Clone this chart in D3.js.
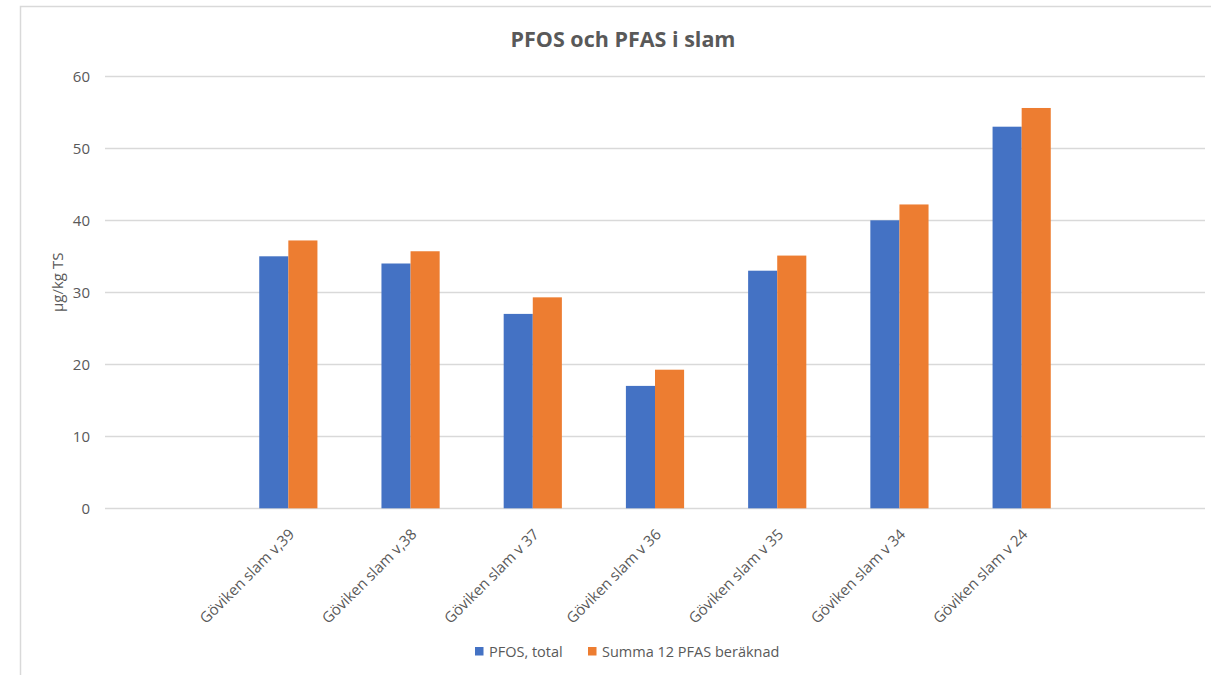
<!DOCTYPE html>
<html>
<head>
<meta charset="utf-8">
<script src="https://cdn.jsdelivr.net/npm/d3@7"></script>
<style>
  body { margin: 0; background: #fff; }
  text { font-family: "Open Sans", sans-serif; fill: #595959; }
</style>
</head>
<body>
<div id="chart"></div>
<script>
// first and last slots are empty in the original chart
const categories = ["", "Göviken slam v,39", "Göviken slam v,38", "Göviken slam v 37", "Göviken slam v 36",
  "Göviken slam v 35", "Göviken slam v 34", "Göviken slam v 24", ""];
const pfosTotal = [null, 35, 34, 27, 17, 33, 40, 53, null];
const summa12 = [null, 37.2, 35.7, 29.3, 19.25, 35.1, 42.2, 55.6, null];
const seriesNames = ["PFOS, total", "Summa 12 PFAS beräknad"];
const yTicks = [0, 10, 20, 30, 40, 50, 60];

const width = 1211, height = 675;
const colors = ["#4472C4", "#ED7D31"];
const plot = { left: 105, right: 1205, top: 76.3, bottom: 508.3 };

const svg = d3.select("#chart").append("svg")
  .attr("width", width)
  .attr("height", height);

// chart frame
svg.append("rect")
  .attr("x", 20.5).attr("y", 6.5)
  .attr("width", 1400).attr("height", 900)
  .attr("fill", "#fff")
  .attr("stroke", "#d9d9d9")
  .attr("stroke-width", 1.5);

const x = d3.scaleBand()
  .domain(d3.range(categories.length))
  .range([plot.left, plot.right]);

const barW = 29.1;
const x1 = d3.scaleBand()
  .domain([0, 1])
  .range([(x.bandwidth() - 2 * barW) / 2, (x.bandwidth() + 2 * barW) / 2]);

const y = d3.scaleLinear()
  .domain([0, 60])
  .range([plot.bottom, plot.top]);

// gridlines
svg.append("g").selectAll("line")
  .data(yTicks)
  .join("line")
  .attr("x1", plot.left).attr("x2", plot.right)
  .attr("y1", d => Math.round(y(d)) + 0.5)
  .attr("y2", d => Math.round(y(d)) + 0.5)
  .attr("stroke", "#d9d9d9")
  .attr("stroke-width", 1.3);

// y axis labels
const yAxis = svg.append("g")
  .attr("transform", `translate(${plot.left},0)`)
  .call(d3.axisLeft(y).tickValues(yTicks).tickSize(0).tickPadding(15));
yAxis.select(".domain").remove();
yAxis.selectAll("text")
  .style("font-size", "15px")
  .attr("fill", "#595959");

// bars
const rows = categories.map((c, i) => ({ i, values: [pfosTotal[i], summa12[i]] }));
svg.append("g").selectAll("g")
  .data(rows)
  .join("g")
  .attr("transform", d => `translate(${x(d.i)},0)`)
  .selectAll("rect")
  .data(d => d.values.map((v, k) => ({ v, k })).filter(e => e.v !== null))
  .join("rect")
  .attr("x", e => x1(e.k))
  .attr("width", x1.bandwidth())
  .attr("y", e => y(e.v))
  .attr("height", e => y(0) - y(e.v))
  .attr("fill", e => colors[e.k]);

// category labels
svg.append("g").selectAll("text")
  .data(rows.filter(d => categories[d.i] !== ""))
  .join("text")
  .attr("transform", d => `translate(${x(d.i) + x.bandwidth() / 2 + 7},${plot.bottom + 27}) rotate(-45)`)
  .attr("text-anchor", "end")
  .style("font-size", "15px")
  .text(d => categories[d.i]);

// y axis title
svg.append("text")
  .attr("transform", `translate(63,${(plot.top + plot.bottom) / 2 - 10}) rotate(-90)`)
  .attr("text-anchor", "middle")
  .style("font-size", "15px")
  .text("µg/kg TS");

// title
svg.append("text")
  .attr("x", 623).attr("y", 46.5)
  .attr("text-anchor", "middle")
  .style("font-size", "21.5px")
  .style("font-weight", "bold")
  .text("PFOS och PFAS i slam");

// legend
const legendItems = [{ x: 475, name: seriesNames[0] }, { x: 588, name: seriesNames[1] }];
const lg = svg.append("g").selectAll("g")
  .data(legendItems)
  .join("g")
  .attr("transform", d => `translate(${d.x},647)`);
lg.append("rect")
  .attr("width", 8.5).attr("height", 8.5)
  .attr("fill", (d, k) => colors[k]);
lg.append("text")
  .attr("x", 14).attr("y", 10)
  .style("font-size", "14.5px")
  .text(d => d.name);
</script>
</body>
</html>
